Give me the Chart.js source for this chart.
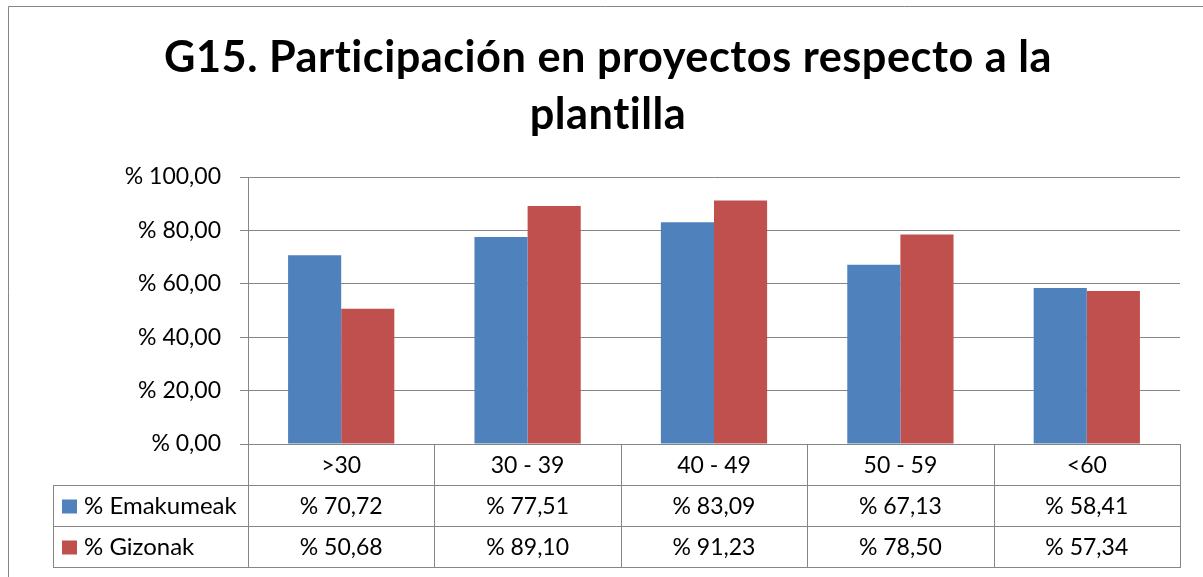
<!DOCTYPE html>
<html>
<head>
<meta charset="utf-8">
<script src="https://cdn.jsdelivr.net/npm/chart.js@4"></script>
<style>
  html, body { margin: 0; padding: 0; background: #ffffff; }
  #wrap { width: 1203px; height: 577px; position: relative; }
</style>
</head>
<body>
<div id="wrap"><canvas id="c" width="1203" height="577"></canvas></div>
<script>
const titleLines = ["G15. Participación en proyectos respecto a la", "plantilla"];
const categories = [">30", "30 - 39", "40 - 49", "50 - 59", "<60"];
const seriesNames = ["% Emakumeak", "% Gizonak"];
const emakumeak = [70.72, 77.51, 83.09, 67.13, 58.41];
const gizonak = [50.68, 89.10, 91.23, 78.50, 57.34];
const yTicks = [0, 20, 40, 60, 80, 100];
const colors = ["#4F81BD", "#C0504D"];

const FONT = "Lato, 'Open Sans', sans-serif";
const LINE = "#868686";
const fmt = v => "% " + v.toFixed(2).replace(".", ",");

const frameAndTitle = {
  id: "frameAndTitle",
  beforeDraw(chart) {
    const ctx = chart.ctx;
    ctx.save();
    ctx.fillStyle = "#ffffff";
    ctx.fillRect(0, 0, chart.width, chart.height);
    ctx.strokeStyle = LINE;
    ctx.lineWidth = 1;
    ctx.beginPath();
    ctx.moveTo(8.5, chart.height);
    ctx.lineTo(8.5, 6.5);
    ctx.lineTo(chart.width, 6.5);
    ctx.stroke();
    // title
    ctx.fillStyle = "#000000";
    ctx.textAlign = "center";
    ctx.textBaseline = "alphabetic";
    if ("letterSpacing" in ctx) ctx.letterSpacing = "0.5px";
    ctx.font = "bold 40px " + FONT;
    const w = ctx.measureText(titleLines[0]).width;
    const size = 40 * 890 / w;
    ctx.font = "bold " + size.toFixed(2) + "px " + FONT;
    ctx.fillText(titleLines[0], 608, 72);
    ctx.fillText(titleLines[1], 608, 129);
    ctx.restore();
  }
};

const dataTable = {
  id: "dataTable",
  afterDraw(chart) {
    const ctx = chart.ctx;
    const area = chart.chartArea;
    const xs = chart.scales.x;
    const n = categories.length;
    const cw = (area.right - area.left) / n;
    const rowH = 41;
    const top = area.bottom;
    const legendLeft = 53;
    ctx.save();
    ctx.strokeStyle = LINE;
    ctx.lineWidth = 1;
    ctx.beginPath();
    for (let i = 0; i <= n; i++) {
      const x = Math.round(i < n ? xs.getPixelForValue(i) - cw / 2 : xs.getPixelForValue(n - 1) + cw / 2) + 0.5;
      ctx.moveTo(x, top);
      ctx.lineTo(x, top + 3 * rowH);
    }
    ctx.moveTo(legendLeft + 0.5, top + rowH);
    ctx.lineTo(legendLeft + 0.5, top + 3 * rowH);
    for (let r = 1; r <= 3; r++) {
      const y = Math.round(top + r * rowH) + 0.5;
      ctx.moveTo(legendLeft, y);
      ctx.lineTo(Math.round(area.right) + 1, y);
    }
    ctx.stroke();

    ctx.fillStyle = "#000000";
    ctx.font = "23px " + FONT;
    ctx.textBaseline = "middle";
    ctx.textAlign = "center";
    categories.forEach((c, i) => {
      ctx.fillText(c, xs.getPixelForValue(i), top + rowH / 2 + 1);
    });
    const rows = [emakumeak, gizonak];
    rows.forEach((vals, r) => {
      const cy = top + rowH * (r + 1) + rowH / 2 + 1;
      ctx.textAlign = "center";
      vals.forEach((v, i) => {
        ctx.fillText(fmt(v), xs.getPixelForValue(i), cy);
      });
      ctx.fillStyle = colors[r];
      ctx.fillRect(62, cy - 7, 15, 14);
      ctx.fillStyle = "#000000";
      ctx.textAlign = "left";
      ctx.font = "24px " + FONT;
      ctx.fillText(seriesNames[r], 84, cy);
      ctx.font = "23px " + FONT;
    });
    ctx.restore();
  }
};

new Chart(document.getElementById("c"), {
  type: "bar",
  data: {
    labels: categories,
    datasets: [
      { label: seriesNames[0], data: emakumeak, backgroundColor: colors[0], borderWidth: 0 },
      { label: seriesNames[1], data: gizonak, backgroundColor: colors[1], borderWidth: 0 }
    ]
  },
  options: {
    responsive: false,
    animation: false,
    layout: { padding: { left: 0, top: 177, right: 23, bottom: 133 } },
    plugins: { legend: { display: false }, title: { display: false }, tooltip: { enabled: false } },
    datasets: { bar: { categoryPercentage: 0.57, barPercentage: 1.0 } },
    scales: {
      x: { display: false, offset: true },
      y: {
        min: 0, max: 100,
        afterBuildTicks: s => { s.ticks = yTicks.map(v => ({ value: v })); },
        afterFit: s => { s.width = 248; },
        ticks: {
          padding: 19,
          color: "#000000",
          font: { family: FONT, size: 23 },
          callback: v => fmt(v)
        },
        grid: { color: LINE, lineWidth: 1, tickLength: 8, drawTicks: true },
        border: { display: true, color: LINE, width: 1 }
      }
    }
  },
  plugins: [frameAndTitle, dataTable]
});
</script>
</body>
</html>
